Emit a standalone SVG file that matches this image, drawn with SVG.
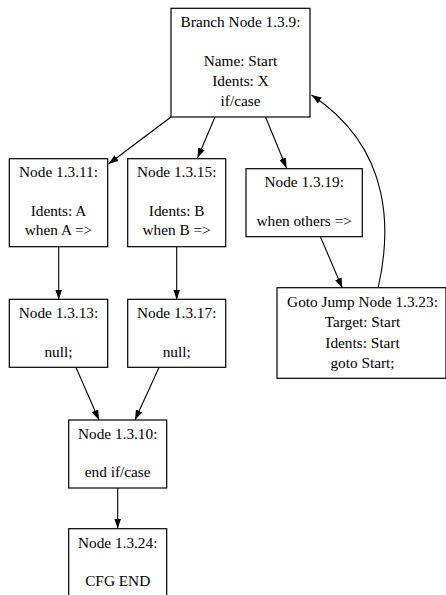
<svg xmlns="http://www.w3.org/2000/svg" width="446" height="595" viewBox="0 0 446 595">
  <style>
    .box { fill: #ffffff; stroke: #000000; stroke-width: 1.2; }
    .lbl { font-family: "Liberation Serif", "Times New Roman", serif; font-size: 15.3px; fill: #000000; text-anchor: middle; }
    .edge { fill: none; stroke: #000000; stroke-width: 1.1; marker-end: url(#arrow); }
  </style>
  <defs>
    <marker id="arrow" viewBox="0 0 10 7" refX="10" refY="3.5" markerWidth="10" markerHeight="7" markerUnits="userSpaceOnUse" orient="auto">
      <path d="M0,0 L10,3.5 L0,7 z" fill="#000000"/>
    </marker>
  </defs>
  <rect width="446" height="595" fill="#ffffff"/>

  <g id="connectors">
    <path class="edge" d="M171,117 L108.5,164"/>
    <path class="edge" d="M215,117 L197.5,158"/>
    <path class="edge" d="M265.5,117 L286.5,168"/>
    <path class="edge" d="M58.7,247 L58.7,299.5"/>
    <path class="edge" d="M176.7,247 L176.7,299.5"/>
    <path class="edge" d="M320.5,237 L342.3,288"/>
    <path class="edge" d="M378.3,287 C390,235 395,150 311.5,95"/>
    <path class="edge" d="M76,367.5 L99,420"/>
    <path class="edge" d="M159,367.5 L135,420"/>
    <path class="edge" d="M117.7,488 L117.7,528.5"/>
  </g>

  <g id="node-1-3-9">
    <rect class="box" x="171" y="8.3" width="139" height="108.7"/>
    <text class="lbl" x="240.5" y="26.5">Branch Node 1.3.9:</text>
    <text class="lbl" x="240.5" y="65.5">Name: Start</text>
    <text class="lbl" x="240.5" y="85.5">Idents: X</text>
    <text class="lbl" x="240.5" y="105.5">if/case</text>
  </g>

  <g id="node-1-3-11">
    <rect class="box" x="9.3" y="158.7" width="98.4" height="88"/>
    <text class="lbl" x="58.5" y="177">Node 1.3.11:</text>
    <text class="lbl" x="58.5" y="215.5">Idents: A</text>
    <text class="lbl" x="58.5" y="235">when A =&gt;</text>
  </g>

  <g id="node-1-3-15">
    <rect class="box" x="127.7" y="158.7" width="98" height="88"/>
    <text class="lbl" x="176.7" y="177">Node 1.3.15:</text>
    <text class="lbl" x="176.7" y="215.5">Idents: B</text>
    <text class="lbl" x="176.7" y="235">when B =&gt;</text>
  </g>

  <g id="node-1-3-19">
    <rect class="box" x="246" y="168.7" width="116.3" height="68"/>
    <text class="lbl" x="304.2" y="187">Node 1.3.19:</text>
    <text class="lbl" x="304.2" y="225.5">when others =&gt;</text>
  </g>

  <g id="node-1-3-23">
    <rect class="box" x="277" y="287.7" width="169" height="90.6"/>
    <text class="lbl" x="362.5" y="307">Goto Jump Node 1.3.23:</text>
    <text class="lbl" x="362.5" y="327">Target: Start</text>
    <text class="lbl" x="362.5" y="347.5">Idents: Start</text>
    <text class="lbl" x="362.5" y="367.5">goto Start;</text>
  </g>

  <g id="node-1-3-13">
    <rect class="box" x="9.3" y="299.3" width="98.4" height="68"/>
    <text class="lbl" x="58.5" y="317.5">Node 1.3.13:</text>
    <text class="lbl" x="58.5" y="357">null;</text>
  </g>

  <g id="node-1-3-17">
    <rect class="box" x="127.7" y="299.3" width="98" height="68"/>
    <text class="lbl" x="176.7" y="317.5">Node 1.3.17:</text>
    <text class="lbl" x="176.7" y="357">null;</text>
  </g>

  <g id="node-1-3-10">
    <rect class="box" x="68.7" y="420" width="98" height="68"/>
    <text class="lbl" x="117.7" y="438.5">Node 1.3.10:</text>
    <text class="lbl" x="117.7" y="477">end if/case</text>
  </g>

  <g id="node-1-3-24">
    <rect class="box" x="68.7" y="528.7" width="98" height="80"/>
    <text class="lbl" x="117.7" y="547.5">Node 1.3.24:</text>
    <text class="lbl" x="117.7" y="586">CFG END</text>
  </g>
</svg>
